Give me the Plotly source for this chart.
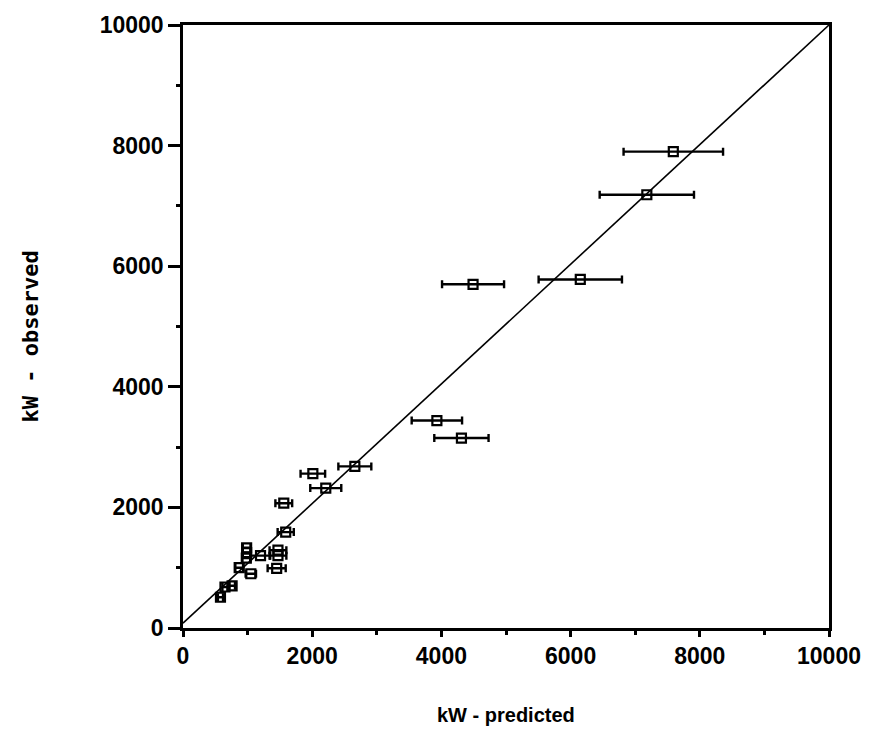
import plotly.graph_objects as go

# Observations: predicted kW, observed kW, +/- error on predicted
pred = [7590, 7180, 6150, 4490, 3930, 4310, 2660, 2010, 2210, 1560, 1590,
        985, 985, 980, 1200, 1470, 1470, 870, 1050, 1450, 580, 650, 760]
obs = [7900, 7185, 5780, 5700, 3440, 3150, 2680, 2560, 2320, 2070, 1590,
       1330, 1250, 1160, 1200, 1290, 1200, 1000, 900, 990, 510, 680, 700]
err = [770, 730, 645, 480, 390, 420, 255, 190, 240, 130, 125,
       60, 60, 60, 150, 130, 130, 60, 80, 140, 40, 40, 45]

# Fitted line
fit_x = [0, 10000]
fit_y = [80, 10000]

tick_vals = [0, 2000, 4000, 6000, 8000, 10000]
tick_text = ["0", "2000", "4000", "6000", "8000", "10000"]

fig = go.Figure()
fig.add_trace(go.Scatter(
    x=fit_x, y=fit_y, mode="lines",
    line=dict(color="black", width=1.6), showlegend=False, hoverinfo="skip"))
fig.add_trace(go.Scatter(
    x=pred, y=obs, mode="markers",
    marker=dict(symbol="square-open", size=9, color="black", line=dict(width=2.2, color="black")),
    error_x=dict(type="data", array=err, visible=True, color="black", thickness=2.4, width=4),
    showlegend=False))

tickfont = dict(family="Liberation Sans", size=23, color="black", weight="bold")
common = dict(
    range=[0, 10000], tickvals=tick_vals, ticktext=tick_text,
    showgrid=False, zeroline=False, showline=True, linecolor="black", linewidth=2.5,
    mirror=True, ticks="outside", tickcolor="black", tickwidth=2.5,
    tickfont=tickfont,
    minor=dict(ticks="outside", tickvals=[1000, 3000, 5000, 7000, 9000],
               ticklen=4, tickwidth=2.5, tickcolor="black", showgrid=False),
)
fig.update_xaxes(**common, ticklen=6)
fig.update_yaxes(**common, ticklen=12)

fig.update_layout(
    width=876, height=735,
    margin=dict(l=183, r=47, t=22, b=107),
    plot_bgcolor="white", paper_bgcolor="white",
    annotations=[
        dict(text="kW - predicted", x=0.5, y=0, xref="paper", yref="paper",
             xanchor="center", yanchor="middle", yshift=-87, showarrow=False,
             font=dict(family="Liberation Sans", size=20, color="black", weight="bold")),
        dict(text="kW - observed", x=0, y=0.5, xref="paper", yref="paper",
             xanchor="center", yanchor="middle", xshift=-153, yshift=-10,
             textangle=-90, showarrow=False,
             font=dict(family="DejaVu Sans Mono", size=22, color="black", weight="bold")),
    ],
)

fig.write_html("out.html")
